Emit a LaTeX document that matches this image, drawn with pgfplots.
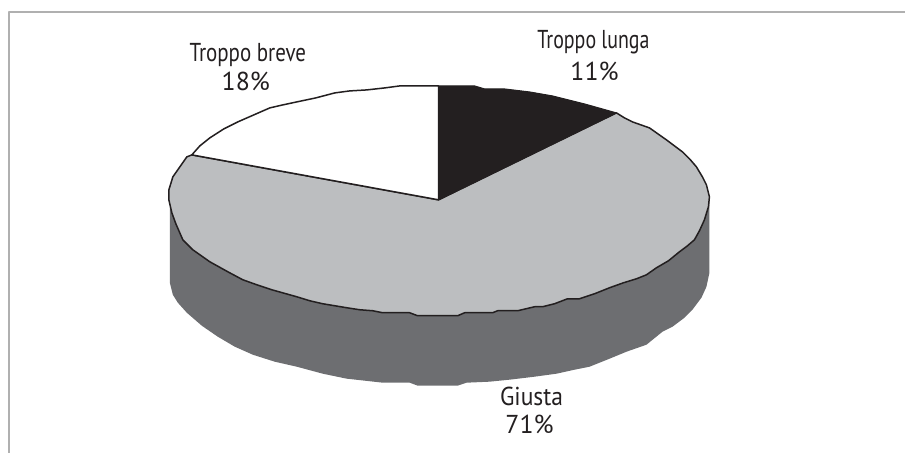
\documentclass[border=0pt]{standalone}
\usepackage{fontspec}
\setmainfont{PT Sans}
\usepackage{graphicx}
\usepackage{pgfplots}
\pgfplotsset{compat=1.18}
\definecolor{pieblack}{HTML}{231F20}
\definecolor{piegray}{HTML}{BCBEC0}
\definecolor{pieside}{HTML}{6D6E71}
\definecolor{frame}{HTML}{B0B0B0}
\tikzset{lbl/.style={font=\fontsize{26}{30}\selectfont, anchor=base, text=pieblack, inner sep=0pt}}
\begin{document}
\begin{tikzpicture}
\begin{axis}[
    hide axis,
    scale only axis,
    width=906bp, height=453bp,
    xmin=0, xmax=906, ymin=0, ymax=453,
    y dir=reverse,
    clip=false,
    every axis plot/.append style={no markers, line join=round},
]
% keeps the whole page in the bounding box
\addplot[draw=none] coordinates {(0,0) (906,0) (906,453) (0,453)};
% frame
\addplot[frame, line width=1.5bp] coordinates {(9,453) (9,12) (906,12)};
% side of the pie
\addplot[fill=pieside, draw=none] coordinates {
    (170,195) (170,283) (173,295) (178,303) (187,313) (202,326) (218,337)
    (235,347) (253,355) (275,362) (297,367) (323,374) (347,379) (365,381)
    (383,383) (410,383) (418,386) (458,386) (467,383) (490,382) (510,380)
    (535,377) (557,374) (575,370) (590,367) (610,359) (627,352) (647,345)
    (663,332) (673,327) (685,318) (693,310) (702,298) (707,287) (710,273)
    (710,195)
};
% Giusta 71%
\addplot[fill=piegray, draw=pieblack, line width=1.5bp] coordinates {
    (439,200) (617,113) (625,118) (633,122) (650,128) (667,140) (683,152)
    (691,160) (697,167) (703,177) (707,185) (710,197) (709,207) (705,220)
    (700,231) (695,240) (688,246) (680,252) (669,261) (657,268) (647,275)
    (637,279) (624,283) (610,288) (595,294) (580,299) (568,299) (555,304)
    (543,307) (535,307) (518,311) (498,311) (493,313) (465,313) (458,316)
    (418,316) (410,313) (383,313) (373,311) (360,310) (347,308) (323,304)
    (310,301) (297,297) (272,290) (257,285) (243,280) (228,272) (210,262)
    (193,250) (183,240) (176,224) (172,213) (169,200) (169,190) (173,177)
    (180,167) (187,157) (192,155) (439,200)
};
% Troppo lunga 11%
\addplot[fill=pieblack, draw=pieblack, line width=1bp] coordinates {
    (439,200) (439,86) (475,86) (485,89) (505,89) (530,92) (553,96) (585,104)
    (617,113) (439,200)
};
% Troppo breve 18%
\addplot[fill=white, draw=pieblack, line width=1.5bp] coordinates {
    (439,200) (192,155) (200,146) (210,138) (224,129) (238,122) (254,115)
    (270,108) (283,105) (297,102) (316,98) (335,93) (350,91) (367,90) (385,88)
    (400,86) (439,86) (439,200)
};
\node[lbl] at (axis cs:248,62) {\scalebox{0.81}[1]{Troppo breve}};
\node[lbl] at (axis cs:246,91) {18\%};
\node[lbl] at (axis cs:594,49) {\scalebox{0.77}[1]{Troppo lunga}};
\node[lbl] at (axis cs:595,81) {11\%};
\node[lbl] at (axis cs:532,406) {\scalebox{0.91}[1]{Giusta}};
\node[lbl] at (axis cs:530,434) {71\%};
\end{axis}
\end{tikzpicture}
\end{document}
